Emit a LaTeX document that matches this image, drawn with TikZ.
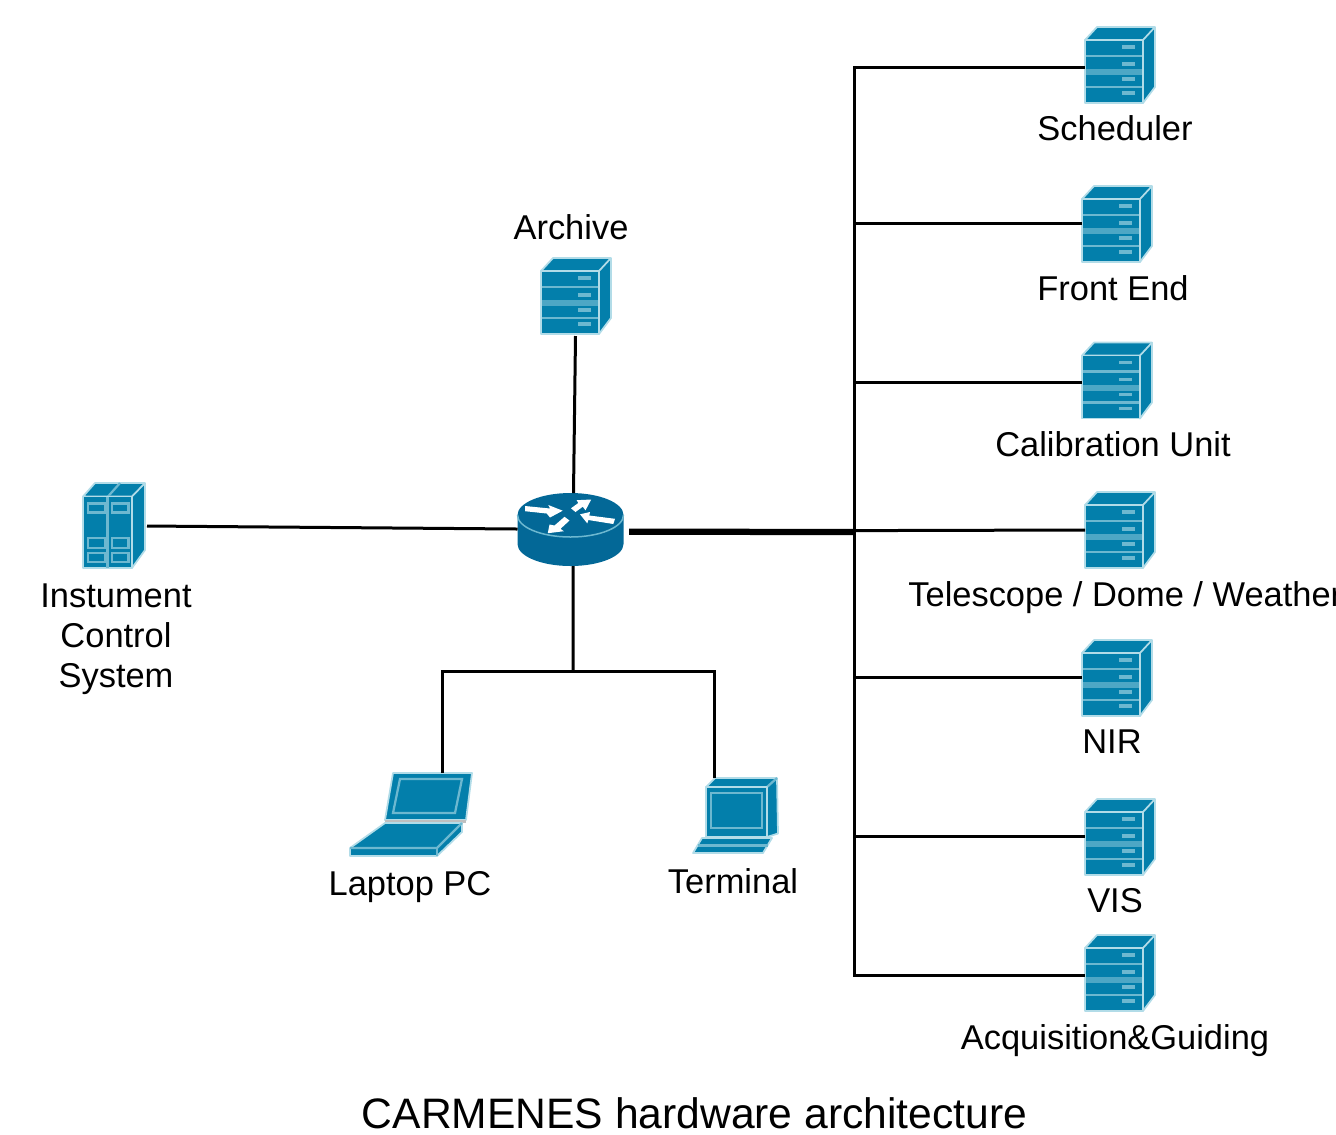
\documentclass[tikz,border=0pt]{standalone}
\usepackage{fontspec}
\setmainfont{Liberation Sans}
\definecolor{iconblue}{HTML}{037FAB}
\definecolor{iconedge}{HTML}{B2DCE8}
\definecolor{iconline}{HTML}{6DB8D0}
\definecolor{routerblue}{HTML}{036897}
\tikzset{
  face/.style={fill=iconblue, draw=iconedge, line width=0.035cm, line join=round},
  band/.style={draw=iconline, line width=0.045cm},
  slot/.style={draw=iconline, line width=0.07cm},
  link/.style={draw=black, line width=0.06cm},
  label/.style={font=\fontsize{19.6pt}{22.8pt}\selectfont, align=center, inner sep=0pt},
  servericon/.pic={
    \draw[face] (-35,-25) -- (-23,-38) -- (35,-38) -- (35,22) -- (23,38) -- (23,-25) -- cycle;
    \draw[face] (23,-25) -- (35,-38);
    \draw[face] (-35,-25) rectangle (23,38);
    \draw[band] (-34,-9) -- (22,-9);
    \fill[iconline!70!iconblue] (-34,4) rectangle (22,10);
    \draw[band] (-34,22) -- (22,22);
    \draw[slot] (2,-18) -- (15,-18);
    \draw[slot] (2,-1) -- (15,-1);
    \draw[slot] (2,14) -- (15,14);
    \draw[slot] (2,28) -- (15,28);
    \coordinate (-w) at (-35,0);
    \coordinate (-s) at (-0.5,40);
  },
  clustericon/.pic={
    \draw[face] (-31,-29) -- (-19,-42.5) -- (31,-42.5) -- (31,24.5) -- (18,42.5) -- (18,-29) -- cycle;
    \draw[face] (18,-29) -- (31,-42.5);
    \draw[band] (-6,-29) -- (6,-42.5);
    \draw[face] (-31,-29) rectangle (18,42.5);
    \draw[band] (-6.5,-29) -- (-6.5,42.5);
    \draw[band] (-26,-22) rectangle (-9,-13);
    \draw[band] (-2,-22) rectangle (14.5,-13);
    \draw[band] (-26,12.5) rectangle (-9,22.5);
    \draw[band] (-2,12.5) rectangle (14.5,22.5);
    \draw[band] (-26,27.5) rectangle (-9,36.5);
    \draw[band] (-2,27.5) rectangle (14.5,36.5);
    \coordinate (-e) at (33,0.5);
  },
  routericon/.pic={
    \fill[routerblue] (-53,-14) -- (-53,15) arc[start angle=180, end angle=0, x radius=53, y radius=22] -- (53,-14) -- cycle;
    \fill[routerblue] (0,-14) ellipse [x radius=53, y radius=22];
    \draw[iconline, line width=0.03cm] (-53,-14) arc[start angle=180, end angle=0, x radius=53, y radius=22];
    \fill[white] (-45.5,-23) -- (-20.5,-20.5) -- (-22.2,-24) -- (-7.8,-18.3) -- (-20.5,-11.5) -- (-23.8,-15.5) -- (-45.5,-17.8) -- cycle;
    \fill[white] (0.5,-20.7) -- (7.8,-26) -- (6.2,-28.8) -- (20.7,-29.5) -- (15,-18.7) -- (12.3,-22.3) -- (5,-17) -- cycle;
    \fill[white] (9.5,-14.7) -- (19.5,-17) -- (18.8,-13.5) -- (44.5,-10.2) -- (42.8,-5) -- (17.8,-9) -- (16.8,-5.6) -- cycle;
    \fill[white] (-22.7,4.2) -- (-21,-4.5) -- (-16,-3.5) -- (-6,-12.2) -- (-1,-8.5) -- (-10,-0.2) -- (-6.7,2.2) -- cycle;
    \coordinate (-n) at (3,-36);
    \coordinate (-s) at (2.5,37);
    \coordinate (-w) at (-53,0);
    \coordinate (-e) at (58.5,2.7);
  },
  laptopicon/.pic={
    \draw[face] (-18,-42) -- (61,-42) -- (55,5) -- (-26,5) -- cycle;
    \draw[band] (-11,-36) -- (51,-36) -- (44,-2) -- (-18,-2) -- cycle;
    \fill[black!25] (-26,5) rectangle (55,8);
    \draw[face] (-26,8) -- (51,8) -- (51,17) -- (26,41) -- (-61,41) -- (-61,33) -- cycle;
    \draw[band] (-61,33) -- (26,33) -- (51,8);
    \draw[band] (26,33) -- (26,41);
    \coordinate (-n) at (31,-42);
  },
  terminalicon/.pic={
    \draw[face] (-30.5,-28.5) -- (-21.5,-37.5) -- (40.5,-37.5) -- (41.5,18) -- (30.5,21.5) -- (30.5,-28.5) -- cycle;
    \draw[band] (30.5,-28.5) -- (40.5,-37.5);
    \draw[face] (-30.5,-28.5) rectangle (30.5,21.5);
    \draw[band] (-25.5,-22.5) rectangle (25.5,12.5);
    \draw[face] (-34.5,22.5) -- (35.5,22.5) -- (26.5,37.5) -- (-43.5,37.5) -- cycle;
    \draw[band] (-39,30) -- (31,30);
    \coordinate (-n) at (-22.5,-37.5);
  },
}
\begin{document}
\begin{tikzpicture}[x=0.02cm, y=-0.02cm]
\useasboundingbox (0,0) rectangle (1336,1134);

\pic (Router) at (570.5,529) {routericon};
\pic (Archive) at (576,296) {servericon};
\pic (Cluster) at (114,525.5) {clustericon};
\pic (Laptop) at (411,815) {laptopicon};
\pic (Terminal) at (736.5,815.5) {terminalicon};

\pic (Scheduler) at (1120,65) {servericon};
\pic (FrontEnd) at (1117,224) {servericon};
\pic (Calibration) at (1117,380.5) {servericon};
\pic (Telescope) at (1120,530) {servericon};
\pic (NIR) at (1117,678) {servericon};
\pic (VIS) at (1120,837) {servericon};
\pic (Guiding) at (1120,973) {servericon};

\node[label] (Archive label) at (571,227) {Archive};
\node[label] (Cluster label) at (116,639) {Instument\\Control\\System};
\node[label] (Laptop label) at (410,887) {Laptop PC};
\node[label] (Terminal label) at (733,881) {Terminal};
\node[label] (Scheduler label) at (1115,128) {Scheduler};
\node[label] (FrontEnd label) at (1113,288) {Front End};
\node[label] (Calibration label) at (1113,444) {Calibration Unit};
\node[label, anchor=west] (Telescope label) at (908,598) {Telescope / Dome / Weather};
\node[label] (NIR label) at (1112,742) {NIR};
\node[label] (VIS label) at (1115,901) {VIS};
\node[label] (Guiding label) at (1115,1041) {Acquisition\&Guiding};
\node[font=\fontsize{24.25pt}{26pt}\selectfont, inner sep=0pt] (Title) at (694.5,1113) {CARMENES hardware architecture};

\coordinate (Bus 1) at (854,67);
\coordinate (Bus 2) at (854,223);
\coordinate (Bus 3) at (854,382);
\coordinate (Bus 4) at (854,530.6);
\coordinate (Bus 5) at (854,677);
\coordinate (Bus 6) at (854,836);
\coordinate (Bus 7) at (854,975);
\coordinate (Hub) at (854,532);
\coordinate (Split) at (573,671);

\draw[link, line cap=rect] (Bus 1) -- (Bus 7);
\draw[link] (Bus 1) -- (Bus 1 -| Scheduler-w);
\draw[link] (Bus 2) -- (Bus 2 -| FrontEnd-w);
\draw[link] (Bus 3) -- (Bus 3 -| Calibration-w);
\draw[link] (Bus 4) -- (Telescope-w);
\draw[link] (Bus 5) -- (Bus 5 -| NIR-w);
\draw[link] (Bus 6) -- (Bus 6 -| VIS-w);
\draw[link] (Bus 7) -- (Bus 7 -| Guiding-w);

\draw[link, line width=0.125cm] (Router-e) -- (Hub);
\draw[link] (Cluster-e) -- (Router-w);
\draw[link] (Archive-s) -- (Router-n);
\draw[link] (Router-s) -- (Split);
\draw[link] (Laptop-n) |- (Split);
\draw[link] (Terminal-n) |- (Split);
\end{tikzpicture}
\end{document}
